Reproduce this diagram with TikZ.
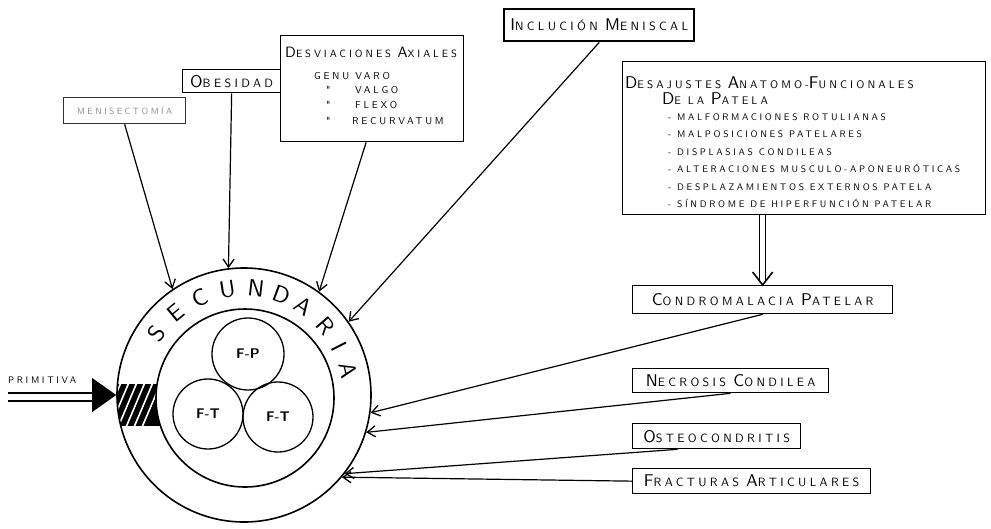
\documentclass[tikz,border=0pt]{standalone}
\usepackage{fontspec}
\usetikzlibrary{arrows.meta,calc}
\newfontfamily\hand{lmsans10-regular.otf}[LetterSpace=28]
\newfontfamily\handb{lmsans10-regular.otf}[LetterSpace=0]
\newcommand\hw{\hand}
\newcommand\Ini[2][17]{{\fontsize{#1}{#1}\selectfont #2}}
\newcommand\sz[1]{\fontsize{#1}{#1}\selectfont}
\begin{document}
\begin{tikzpicture}[x=1pt,y=-1pt,
  box/.style={draw, line width=1.3pt, inner sep=0pt, anchor=north west, font=\hw\sz{12}},
  arr/.style={line width=1.2pt, -{Straight Barb[length=8pt,width=11pt,line width=1.3pt]}},
  lbl/.style={anchor=base west, inner sep=0pt},
  ring/.style={draw, circle, line width=1.6pt, inner sep=0pt},
  small/.style={ring, line width=1.3pt, font=\sffamily\bfseries\sz{14}}
]
\useasboundingbox (0,0) rectangle (991,528);

% ---- hatched band and rings ----
\coordinate (c0) at (244,395);
\begin{scope}
  \clip (c0) circle[radius=127pt];
  \clip (100,384) rectangle (180,426);
  \fill (100,384) rectangle (180,426);
  \foreach \i in {0,...,6} \draw[white, line width=1.6pt] (92+\i*8,432) -- ++(22,-52);
\end{scope}
\node[ring, minimum size=254pt] (C) at (c0) {};
\node[ring, fill=white, minimum size=178pt] (I) at (245,398) {};
\node[small, minimum size=72pt] (FP) at (248,354) {F-P};
\node[small, minimum size=70pt] (FT1) at (208,414) {F-T};
\node[small, minimum size=70pt] (FT2) at (278,417) {F-T};

% ---- SECUNDARIA along the ring ----
\foreach \a/\l [count=\k] in {145/S,129.5/E,114.5/C,99/U,83.5/N,69.5/D,56/A,40.5/R,27/I,13.5/A}
  \path (C.center) ++(\a:107pt) node[rotate=\a-90, inner sep=0pt, font=\handb\sz{23.5}] (L\k) {\l};

% ---- boxes ----
\node[box, draw=black!80, minimum width=122pt, minimum height=26pt, text=black!45, font=\hw\sz{9}] (hip) at (63,97) {MENISECTOMÍA};
\node[box, minimum width=98pt, minimum height=23pt] (obe) at (182,69) {\Ini{O}BESIDAD};
\node[box, minimum width=183pt, minimum height=106pt] (desv) at (280,35) {};
\node[box, line width=2.4pt, minimum width=190pt, minimum height=32pt] (incl) at (503,8) {\Ini{I}NCLUCIÓN \Ini{M}ENISCAL};
\node[box, minimum width=363pt, minimum height=153pt] (desaj) at (622,61) {};
\node[box, minimum width=260pt, minimum height=28pt] (cond) at (632,285) {\Ini{C}ONDROMALACIA \Ini{P}ATELAR};
\node[box, minimum width=196pt, minimum height=24pt] (necr) at (632,368) {\Ini{N}ECROSIS \Ini{C}ONDILEA};
\node[box, minimum width=168pt, minimum height=25pt] (osteo) at (632,423) {\Ini{O}STEOCONDRITIS};
\node[box, minimum width=238pt, minimum height=25pt] (fract) at (632,468) {\Ini{F}RACTURAS \Ini{A}RTICULARES};

% ---- texts inside desviaciones ----
\node[lbl, font=\hw\sz{10.5}] (dv0) at (285,57) {\Ini[15]{D}ESVIACIONES \Ini[15]{A}XIALES};
\node[lbl, font=\hw\sz{10}] (dv1) at (314,79) {GENU VARO};
\node[lbl, font=\hw\sz{10}] (dq2) at (326,93) {"};
\node[lbl, font=\hw\sz{10}] (dv2) at (355,93) {VALGO};
\node[lbl, font=\hw\sz{10}] (dq3) at (326,108) {"};
\node[lbl, font=\hw\sz{10}] (dv3) at (355,108) {FLEXO};
\node[lbl, font=\hw\sz{10}] (dq4) at (326,124) {"};
\node[lbl, font=\hw\sz{10}] (dv4) at (352,124) {RECURVATUM};

% ---- texts inside desajustes ----
\node[lbl, font=\hw\sz{11}] (dj0) at (625,88) {\Ini{D}ESAJUSTES \Ini{A}NATOMO-\Ini{F}UNCIONALES};
\node[lbl, font=\hw\sz{11}] (dj1) at (662,104) {\Ini{D}E LA \Ini{P}ATELA};
\foreach \t/\yy [count=\k] in {MALFORMACIONES ROTULIANAS/120, MALPOSICIONES PATELARES/137, DISPLASIAS CONDILEAS/155, ALTERACIONES MUSCULO-APONEURÓTICAS/172, DESPLAZAMIENTOS EXTERNOS PATELA/190, SÍNDROME DE HIPERFUNCIÓN PATELAR/207}
  \node[lbl, font=\hw\sz{9.5}] (it\k) at (668,\yy) {- \t};

% ---- primitiva ----
\node[lbl, font=\hw\sz{9.5}] (prim) at (8,383) {PRIMITIVA};
\coordinate (p0) at (8,393);
\coordinate (p1) at (8,401);
\coordinate (pb) at ([xshift=-24pt]C.west);
\draw[line width=1.3pt] (p0) -- (p0 -| pb);
\draw[line width=1.3pt] (p1) -- (p1 -| pb);
\fill (C.west) -- ([shift={(-24pt,17pt)}]C.west) -- ([shift={(-24pt,-17pt)}]C.west) -- cycle;

% ---- double arrow ----
\coordinate (d1) at (desaj.south -| cond.north);
\coordinate (d2) at (cond.north);
\draw[line width=1.2pt] ([xshift=-3pt]d1) -- ([xshift=-3pt,yshift=4pt]d2);
\draw[line width=1.2pt] ([xshift=3pt]d1) -- ([xshift=3pt,yshift=4pt]d2);
\draw[line width=1.6pt] ([shift={(-10pt,13pt)}]d2) -- (d2) -- ([shift={(10pt,13pt)}]d2);

% ---- arrows into circle ----
\draw[arr] (hip.south) -- (C.124);
\draw[arr] (obe.south) -- (C.97);
\draw[arr] ([xshift=-6pt]desv.south) -- (C.54);
\draw[arr] (incl.south) -- (C.35);
\draw[arr] (cond.south) -- (C.-8);
\draw[arr] (necr.south) -- (C.-17);
\draw[arr] ([xshift=-39pt]osteo.south) -- (C.-38);
\draw[arr] (fract.west) -- (C.-40);
\end{tikzpicture}
\end{document}
